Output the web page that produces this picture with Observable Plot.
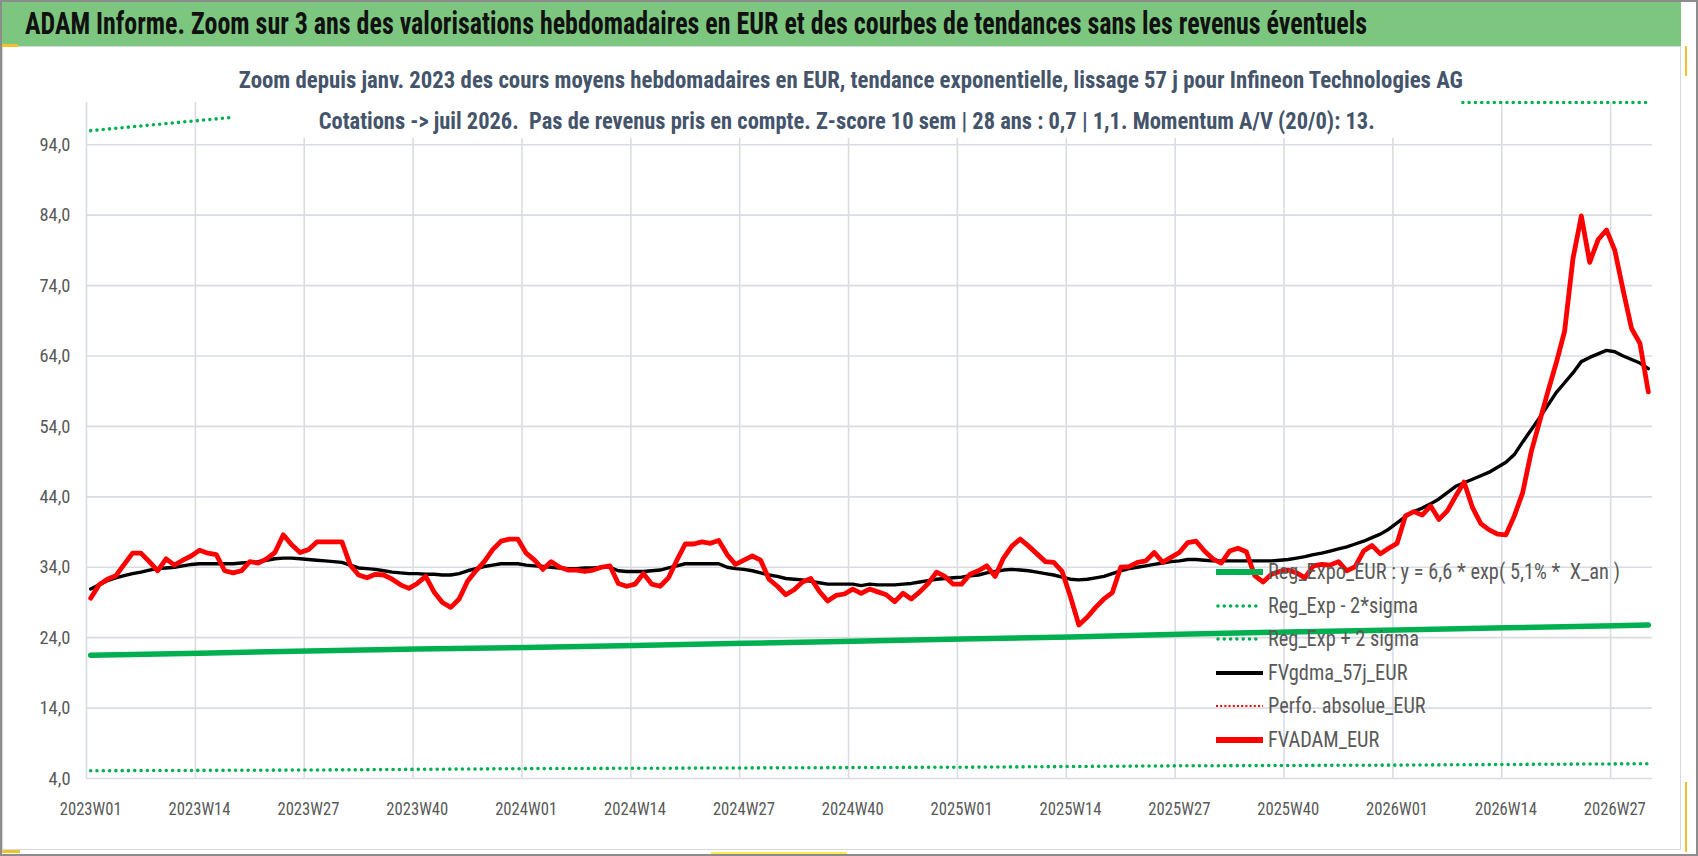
<!DOCTYPE html>
<html><head><meta charset="utf-8">
<script src="https://cdn.jsdelivr.net/npm/d3@7"></script>
<script src="https://cdn.jsdelivr.net/npm/@observablehq/plot@0.6"></script>
<style>
html,body{margin:0;padding:0;background:#fff;}
#frame{position:relative;width:1698px;height:856px;overflow:hidden;background:#fff;font-family:"Liberation Sans Narrow","Roboto Condensed","Liberation Sans",sans-serif;}
#titlebar{position:absolute;left:0;top:0;width:1681px;height:46px;background:#7DC67F;}
#title{position:absolute;left:25px;top:4px;font-weight:bold;font-size:32px;line-height:38px;color:#111;white-space:nowrap;transform-origin:left center;}
#area{position:absolute;left:2px;top:46px;width:1679px;height:804px;box-sizing:border-box;border:1px solid #D6D9DE;}
#chart{position:absolute;left:0;top:46px;}
#sub{position:absolute;left:233px;top:56px;width:1228px;height:82px;background:#fff;text-align:center;color:#44546A;font-weight:bold;font-size:23px;}
#sub div{position:absolute;left:0;width:100%;text-align:center;white-space:pre;line-height:28px;}
#sub span{display:inline-block;white-space:pre;transform-origin:center center;}
#legend{position:absolute;left:1215px;top:0;color:#595959;font-size:22px;}
.lrow{position:absolute;left:0;height:30px;white-space:pre;}
.lrow svg{position:absolute;left:0;top:0;}
.lrow span{position:absolute;left:53px;top:2px;line-height:26px;display:inline-block;white-space:pre;transform-origin:left center;}
#border{position:absolute;left:0;top:0;width:1698px;height:856px;box-sizing:border-box;border:2px solid #8C8C8C;pointer-events:none;}
.mark{position:absolute;}
</style></head>
<body>
<div id="frame">
  <div id="area"></div>
  <div id="titlebar"><span id="title"></span></div>
  <div id="chart"></div>
  <div id="sub"><div style="top:11px"><span id="sub1"></span></div><div style="top:52px"><span id="sub2"></span></div></div>
  <div id="legend"></div>
  <div class="mark" style="left:0;top:44px;width:18px;height:3px;background:#F2C12E"></div>
  <div class="mark" style="left:1685px;top:46px;width:2px;height:30px;background:#F2C12E"></div>
  <div class="mark" style="left:1685px;top:782px;width:2px;height:70px;background:#F2C12E"></div>
  <div class="mark" style="left:0;top:850px;width:20px;height:3px;background:#F2C12E"></div>
  <div class="mark" style="left:711px;top:852px;width:136px;height:2px;background:#FFE84A"></div>
  <div id="border"></div>
</div>
<script>
// ---------- data ----------
const titleText = "ADAM Informe. Zoom sur 3 ans des valorisations hebdomadaires en EUR et des courbes de tendances sans les revenus éventuels";
const subtitle1 = "Zoom depuis janv. 2023 des cours moyens hebdomadaires en EUR, tendance exponentielle, lissage 57 j pour Infineon Technologies AG";
const subtitle2 = "Cotations -> juil 2026.  Pas de revenus pris en compte. Z-score 10 sem | 28 ans : 0,7 | 1,1. Momentum A/V (20/0): 13.";

const tickLabels = ["2023W01","2023W14","2023W27","2023W40","2024W01","2024W14","2024W27","2024W40",
  "2025W01","2025W14","2025W27","2025W40","2026W01","2026W14","2026W27"];
const yTicks = [4,14,24,34,44,54,64,74,84,94];

const legendLabels = ["Reg_Expo_EUR : y = 6,6 * exp( 5,1% *  X_an )","Reg_Exp - 2*sigma","Reg_Exp + 2 sigma",
  "FVgdma_57j_EUR","Perfo. absolue_EUR","FVADAM_EUR"];

// FVADAM_EUR weekly values (2023W01 .. 2026W31)
const fvadam = [
  29.6,31.5,32.3,32.8,34.4,36.0,36.0,34.8,33.5,35.2, 34.3,35.0,35.6,36.4,36.0,35.8,33.5,33.2,33.5,34.8,
  34.6,35.2,36.1,38.6,37.2,36.1,36.5,37.6,37.6,37.6, 37.6,34.3,32.9,32.5,33.0,32.9,32.3,31.5,31.0,31.7,
  32.7,30.5,29.0,28.3,29.5,32.0,33.5,34.8,36.5,37.7, 38.0,38.0,36.0,35.0,33.7,34.8,34.0,33.6,33.6,33.4,
  33.6,34.0,34.2,31.7,31.3,31.6,33.1,31.6,31.3,32.5, 35.0,37.3,37.3,37.6,37.4,37.8,35.8,34.4,35.0,35.6,
  35.0,32.3,31.3,30.1,30.8,31.9,32.4,30.6,29.2,30.0, 30.2,30.9,30.3,30.9,30.5,30.1,29.1,30.3,29.5,30.5,
  31.7,33.3,32.7,31.6,31.6,33.0,33.5,34.2,32.7,35.3, 37.0,38.0,37.0,35.9,34.8,34.7,33.4,29.8,25.8,26.9,
  28.3,29.5,30.4,34.0,34.1,34.7,34.9,36.1,34.7,35.4, 36.1,37.5,37.7,36.3,35.2,34.6,36.3,36.7,36.2,32.8,
  31.9,33.0,33.4,33.6,33.2,32.5,34.2,34.4,34.3,34.8, 33.5,34.1,36.3,37.1,35.9,36.7,37.4,41.3,41.9,41.4,
  42.7,40.8,42.0,44.1,46.1,42.5,40.2,39.3,38.7,38.6, 41.3,44.6,50.3,54.6,58.9,63.0,67.5,77.8,83.9,77.3,
  80.5,81.9,79.0,73.3,67.9,65.8,58.9
];
// FVgdma_57j_EUR weekly values
const fvgdma = [
  30.9,31.5,32.1,32.5,32.8,33.1,33.3,33.6,33.8,33.9, 34.0,34.2,34.4,34.5,34.5,34.5,34.5,34.5,34.6,34.7,
  34.8,35.0,35.2,35.3,35.3,35.2,35.1,35.0,34.9,34.8, 34.7,34.3,33.9,33.8,33.7,33.5,33.3,33.2,33.1,33.1,
  33.0,33.0,32.9,32.9,33.1,33.5,33.8,34.1,34.3,34.5, 34.5,34.5,34.3,34.2,34.1,34.0,33.9,33.8,33.8,33.9,
  33.9,34.0,34.0,33.5,33.4,33.4,33.4,33.5,33.6,33.9, 34.2,34.5,34.5,34.5,34.5,34.5,34.0,33.8,33.7,33.5,
  33.2,32.9,32.7,32.4,32.3,32.2,32.0,31.8,31.6,31.6, 31.6,31.6,31.4,31.6,31.5,31.5,31.5,31.6,31.7,31.9,
  32.1,32.3,32.4,32.5,32.6,32.8,32.9,33.2,33.4,33.6, 33.7,33.6,33.5,33.3,33.1,32.9,32.6,32.3,32.2,32.3,
  32.5,32.7,33.1,33.5,33.8,34.0,34.2,34.4,34.6,34.8, 34.9,35.1,35.1,35.0,34.9,34.9,34.9,34.9,34.9,34.9,
  34.9,34.9,35.0,35.1,35.3,35.5,35.8,36.0,36.3,36.6, 36.9,37.3,37.7,38.2,38.7,39.4,40.3,41.2,41.9,42.4,
  43.0,43.7,44.6,45.5,46.0,46.5,47.0,47.5,48.2,48.9, 50.0,51.8,53.5,55.2,57.0,58.8,60.2,61.6,63.2,63.8,
  64.3,64.8,64.6,64.0,63.5,63.0,62.2
];
// Reg_Expo_EUR read at quarterly weeks (week offset from 2023W01)
const regWeeks  = [0,13,26,39,52,65,78,91,104,117,130,143,156,169,182,186];
const regValues = [21.5,21.8,22.1,22.4,22.6,22.9,23.2,23.5,23.8,24.1,24.5,24.8,25.1,25.4,25.7,25.8];
// Reg_Exp - 2*sigma
const lowWeeks  = [0,26,52,78,104,130,156,186];
const lowValues = [5.1,5.2,5.4,5.5,5.6,5.8,5.9,6.1];
// Reg_Exp + 2 sigma (as visible, capped at the top of the plot)
const upWeeks  = [0,17,38,186];
const upValues = [96.0,97.9,100,100];

// ---------- build ----------
const FONT = '"Liberation Sans Narrow","Roboto Condensed","Liberation Sans",sans-serif';
const GREEN = "#00B050", GRID = "#D9DCE2";
const toRows = (xs, ys) => ys.map((v, k) => ({i: xs ? xs[k] : k, v}));
const tickPos = tickLabels.map((_, k) => k * 13);
const dotted = {strokeDasharray: "0,6.3", strokeLinecap: "round", strokeWidth: 3.6};

const chart = Plot.plot({
  width: 1698, height: 810,
  marginLeft: 86, marginRight: 46, marginTop: 56, marginBottom: 78,
  style: {fontFamily: FONT, fontSize: "19px", color: "#595959", background: "transparent", overflow: "visible"},
  x: {domain: [-0.5, fvadam.length - 0.5]},
  y: {domain: [4, 100]},
  marks: [
    Plot.gridY(yTicks, {stroke: GRID, strokeOpacity: 1, strokeWidth: 1.6}),
    Plot.ruleX(tickPos.map(t => t - 0.5), {stroke: GRID, strokeWidth: 1.6}),
    Plot.axisY(yTicks, {tickSize: 0, tickPadding: 16, label: null, fontSize: 19,
      tickFormat: d => d.toFixed(1).replace(".", ",")}),
    Plot.axisX(tickPos, {tickSize: 0, tickPadding: 23, label: null, fontSize: 19,
      tickFormat: t => tickLabels[t / 13]}),
    Plot.line(toRows(regWeeks, regValues), {x: "i", y: "v", stroke: GREEN, strokeWidth: 5.5}),
    Plot.line(toRows(lowWeeks, lowValues), {x: "i", y: "v", stroke: GREEN, ...dotted}),
    Plot.line(toRows(upWeeks, upValues), {x: "i", y: "v", stroke: GREEN, ...dotted}),
    Plot.line(toRows(null, fvgdma), {x: "i", y: "v", stroke: "#000", strokeWidth: 3.4, strokeLinejoin: "round"}),
    Plot.line(toRows(null, fvadam), {x: "i", y: "v", stroke: "#FF0000", strokeWidth: 4.8, strokeLinejoin: "round"})
  ]
});
document.getElementById("chart").appendChild(chart);

// squeeze axis labels like the (horizontally compressed) reference
function squeezeTexts(sel, ref, target) {
  const texts = chart.querySelectorAll(sel);
  let w = null;
  texts.forEach(t => { if (t.textContent === ref) w = t.getComputedTextLength(); });
  if (!w) return;
  const f = target / w;
  texts.forEach(t => {
    const l = t.getComputedTextLength();
    t.setAttribute("textLength", (l * f).toFixed(1));
    t.setAttribute("lengthAdjust", "spacingAndGlyphs");
  });
}
squeezeTexts('[aria-label="x-axis tick label"] text', "2023W01", 62);
squeezeTexts('[aria-label="y-axis tick label"] text', "94,0", 31);

// titles
function fit(el, target) {
  el.style.transform = "none";
  const w = el.getBoundingClientRect().width;
  el.style.transform = `scaleX(${(target / w).toFixed(4)})`;
  return target / w;
}
const t = document.getElementById("title"); t.textContent = titleText; fit(t, 1342);
const s1 = document.getElementById("sub1"); s1.textContent = subtitle1; fit(s1, 1224);
const s2 = document.getElementById("sub2"); s2.textContent = subtitle2; fit(s2, 1056);

// legend
const legendStyles = [
  {stroke: GREEN, w: 6, dash: null},
  {stroke: GREEN, w: 3.6, dash: "0,6.3"},
  {stroke: GREEN, w: 3.6, dash: "0,6.3"},
  {stroke: "#000", w: 4, dash: null},
  {stroke: "#FF0000", w: 2.2, dash: "2,2.2"},
  {stroke: "#FF0000", w: 6, dash: null}
];
const leg = document.getElementById("legend");
const spans = [];
legendLabels.forEach((lab, k) => {
  const row = document.createElement("div");
  row.className = "lrow";
  row.style.top = (557 + k * 33.5) + "px";
  const st = legendStyles[k];
  row.innerHTML = `<svg width="50" height="30"><line x1="${st.dash && st.w > 3 ? 3 : 1}" x2="${st.dash && st.w > 3 ? 46 : 48}" y1="15" y2="15" stroke="${st.stroke}" stroke-width="${st.w}" ${st.dash ? `stroke-dasharray="${st.dash}"` : ""} stroke-linecap="${st.dash && st.w > 3 ? "round" : "butt"}"/></svg>`;
  const sp = document.createElement("span");
  sp.textContent = lab;
  row.appendChild(sp);
  leg.appendChild(row);
  spans.push(sp);
});
const lw = spans[1].getBoundingClientRect().width;
const lf = 150 / lw;
spans.forEach(sp => sp.style.transform = `scaleX(${lf.toFixed(4)})`);
</script>
</body></html>
